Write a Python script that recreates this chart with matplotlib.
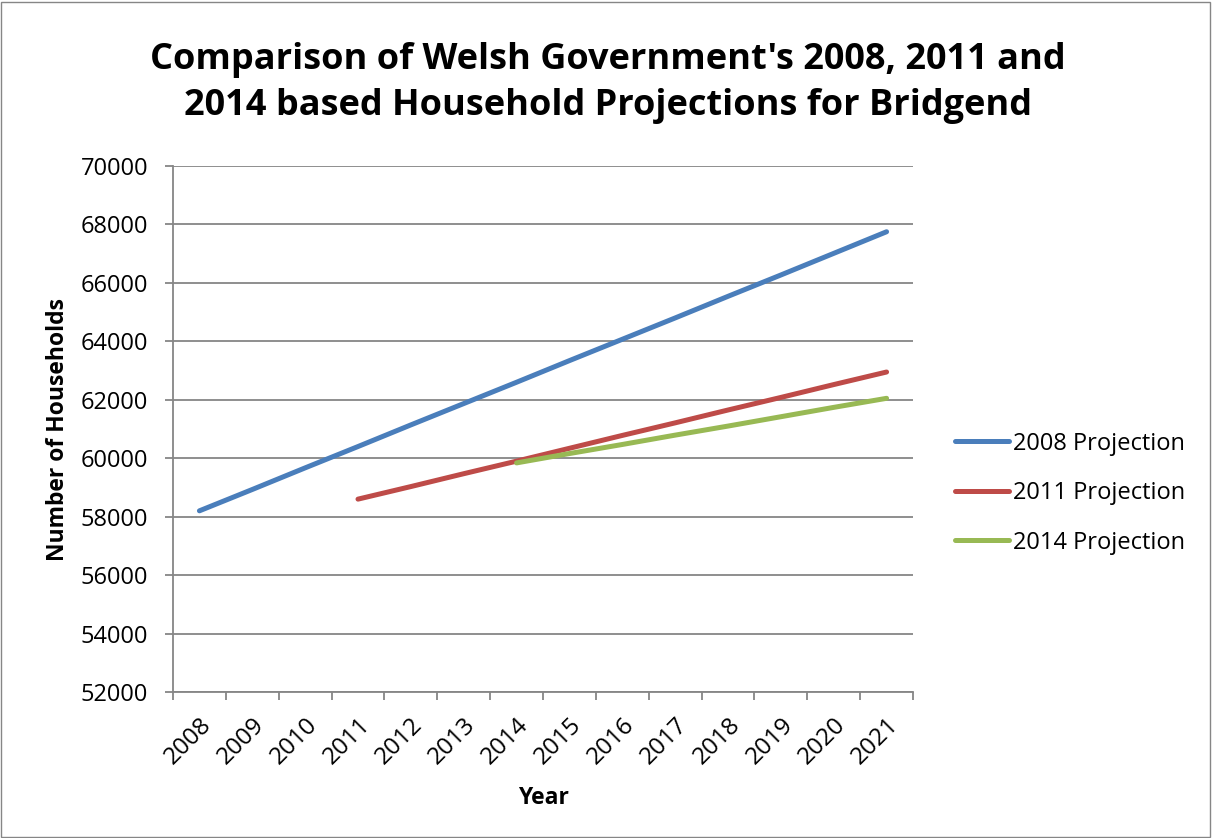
import matplotlib.pyplot as plt
from matplotlib.patches import Rectangle

# Household projections for Bridgend
years = ['2008', '2009', '2010', '2011', '2012', '2013', '2014',
         '2015', '2016', '2017', '2018', '2019', '2020', '2021']
proj_2008 = [58200, 58930, 59670, 60400, 61140, 61870, 62600,
             63340, 64070, 64800, 65540, 66270, 67010, 67750]
proj_2011 = [58600, 59030, 59470, 59900, 60340, 60780,
             61210, 61650, 62080, 62520, 62950]
proj_2014 = [59840, 60160, 60470, 60790, 61100, 61420, 61740, 62050]

plt.rcParams['font.family'] = ['Open Sans', 'DejaVu Sans']

fig = plt.figure(figsize=(12.12, 8.38), dpi=100)
ax = fig.add_axes([173 / 1212, 1 - 692 / 838, 740 / 1212, 526 / 838])

x = list(range(len(years)))
ax.plot(x, proj_2008, color='#4a7ebb', lw=3.6, solid_capstyle='round', label='2008 Projection')
ax.plot(x[3:], proj_2011, color='#be4b48', lw=3.6, solid_capstyle='round', label='2011 Projection')
ax.plot(x[6:], proj_2014, color='#98b954', lw=3.6, solid_capstyle='round', label='2014 Projection')

ax.set_xlim(-0.5, len(years) - 0.5)
ax.set_ylim(52000, 70000)
ax.set_yticks(range(52000, 70001, 2000))
ax.yaxis.grid(True, color='#868686', lw=1.3)
ax.set_axisbelow(True)

ax.set_xticks(x)
ax.set_xticklabels(years, rotation=45, ha='right', va='top', rotation_mode='anchor')
ax.set_xticks([i - 0.5 for i in range(len(years) + 1)], minor=True)
ax.tick_params(axis='x', which='major', length=0, pad=15, labelsize=17.5)
ax.tick_params(axis='x', which='minor', length=6, color='#868686', width=1.3)
ax.tick_params(axis='y', length=6, color='#868686', width=1.3, labelsize=17, pad=12)

for side in ['top', 'right']:
    ax.spines[side].set_visible(False)
for side in ['left', 'bottom']:
    ax.spines[side].set_color('#868686')
    ax.spines[side].set_linewidth(1.3)

ax.set_xlabel('Year', fontsize=16.5, fontweight='bold')
ax.set_ylabel('Number of Households', fontsize=16.5, fontweight='bold')
ax.xaxis.set_label_coords(0.5, (692 - 786) / 526)
ax.yaxis.set_label_coords((70 - 173) / 740, 0.5)

fig.text(608 / 1212, 1 - 42 / 838,
         "Comparison of Welsh Government's 2008, 2011 and\n2014 based Household Projections for Bridgend",
         ha='center', va='top', fontsize=26, fontweight='bold', linespacing=1.38)

ax.legend(loc='center left', bbox_to_anchor=(1.057, (692 - 493) / 526), frameon=False, fontsize=17,
          handlelength=2.3, labelspacing=1.08, handletextpad=0.15, borderaxespad=0, borderpad=0)

fig.patches.append(Rectangle((0.001, 0.001), 0.997, 0.997, transform=fig.transFigure,
                             fill=False, edgecolor='#868686', lw=1))

fig.savefig('out.png', dpi=100)
